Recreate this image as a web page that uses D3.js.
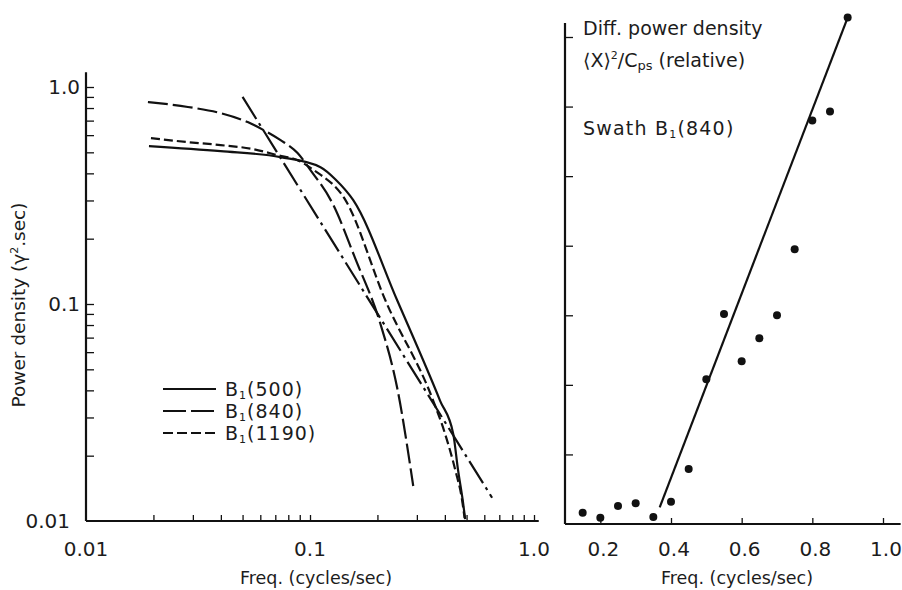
<!DOCTYPE html>
<html>
<head>
<meta charset="utf-8">
<script src="https://cdn.jsdelivr.net/npm/d3@7"></script>
<style>
body { margin: 0; background: #fff; }
text { font-family: "DejaVu Sans", sans-serif; fill: #1c1c1c; }
</style>
</head>
<body>
<svg id="chart" width="902" height="590"></svg>
<script>
// left panel: power density spectra (log-log)
var freqB500 = [0.0191, 0.0399, 0.0739, 0.1114, 0.13, 0.156, 0.245, 0.381, 0.436, 0.458, 0.481, 0.493];
var powB500 = [0.534, 0.506, 0.475, 0.427, 0.375, 0.301, 0.104, 0.0358, 0.0252, 0.0172, 0.0124, 0.0102];
var freqB840 = [0.0189, 0.0285, 0.0399, 0.0527, 0.0621, 0.0739, 0.088, 0.1005, 0.126, 0.16, 0.206, 0.245, 0.289];
var powB840 = [0.853, 0.809, 0.758, 0.689, 0.633, 0.569, 0.496, 0.414, 0.291, 0.16, 0.0813, 0.0411, 0.0145];
var freqB1190 = [0.0195, 0.0285, 0.0399, 0.056, 0.0716, 0.088, 0.104, 0.144, 0.217, 0.355, 0.401, 0.445, 0.478, 0.49];
var powB1190 = [0.581, 0.557, 0.540, 0.517, 0.485, 0.460, 0.414, 0.301, 0.104, 0.0358, 0.0252, 0.0172, 0.0124, 0.0103];
var freqSlope = [0.05, 0.65];
var powSlope = [0.9, 0.0128];

var logTicks = [0.02, 0.03, 0.04, 0.05, 0.06, 0.07, 0.08, 0.09, 0.1, 0.2, 0.3, 0.4, 0.5, 0.6, 0.7, 0.8, 0.9, 1.0];
var logLabels = {0.01: "0.01", 0.1: "0.1", 1: "1.0"};
var legendNames = ["500", "840", "1190"];

// right panel: difference power density (linear)
var freqDiff = [0.15, 0.2, 0.25, 0.3, 0.35, 0.4, 0.45, 0.5, 0.55, 0.6, 0.65, 0.7, 0.75, 0.8, 0.85, 0.9];
var valDiff = [0.16, 0.09, 0.26, 0.30, 0.10, 0.32, 0.79, 2.08, 3.02, 2.34, 2.67, 3.0, 3.95, 5.8, 5.93, 7.28];
var freqFit = [0.368, 0.9];
var valFit = [0.24, 7.28];
var linTicksX = [0.2, 0.4, 0.6, 0.8, 1.0];
var linLabelsX = ["0.2", "0.4", "0.6", "0.8", "1.0"];
var linTicksY = [1, 2, 3, 4, 5, 6, 7];

var svg = d3.select("#chart");

var xL = d3.scaleLog().domain([0.01, 1]).range([86, 534]);
var yL = d3.scaleLog().domain([0.01, 1]).range([521, 87]);
var xR = d3.scaleLinear().domain([0.1, 1.0]).range([565, 883]);
var yR = d3.scaleLinear().domain([0, 7]).range([524, 37]);

function zip(a, b) { return a.map(function(v, i) { return [v, b[i]]; }); }

function drawLeft() {
	var g = svg.append("g");
	// axes
	var ax = d3.axisBottom(xL).tickValues(logTicks).tickSizeInner(-6).tickSizeOuter(0).tickFormat("");
	var ay = d3.axisLeft(yL).tickValues(logTicks).tickSizeInner(-8).tickSizeOuter(0).tickFormat("");
	g.append("g").attr("transform", "translate(0," + yL(0.01) + ")").call(ax);
	g.append("g").attr("transform", "translate(" + xL(0.01) + ",0)").call(ay);
	g.selectAll(".domain").remove();
	g.selectAll(".tick line").attr("stroke", "#111").attr("stroke-width", 1.3);
	g.append("line").attr("x1", xL(0.01)).attr("x2", xL(1.05)).attr("y1", yL(0.01)).attr("y2", yL(0.01))
		.attr("stroke", "#111").attr("stroke-width", 2.2);
	g.append("line").attr("x1", xL(0.01)).attr("x2", xL(0.01)).attr("y1", yL(0.01)).attr("y2", yL(1.17))
		.attr("stroke", "#111").attr("stroke-width", 2.2);

	Object.keys(logLabels).forEach(function(k) {
		var v = +k;
		g.append("text").attr("x", v === 0.01 ? 70 : 80).attr("y", yL(v)).attr("dy", "0.35em")
			.attr("text-anchor", "end").attr("font-size", 20).text(logLabels[k]);
		g.append("text").attr("x", xL(v)).attr("y", 549).attr("dy", "0.35em")
			.attr("text-anchor", "middle").attr("font-size", 20).text(logLabels[k]);
	});

	g.append("text").attr("x", 316).attr("y", 578).attr("dy", "0.35em").attr("text-anchor", "middle")
		.attr("font-size", 17.5).text("Freq.  (cycles/sec)");
	var yl = g.append("text").attr("transform", "translate(19,305) rotate(-90)").attr("dy", "0.35em")
		.attr("text-anchor", "middle").attr("font-size", 18.5);
	yl.append("tspan").text("Power density (\u03b3");
	yl.append("tspan").attr("font-size", 11).attr("dy", -7).text("2");
	yl.append("tspan").attr("dy", 7).text(".sec)");

	var line = d3.line().x(function(d) { return xL(d[0]); }).y(function(d) { return yL(d[1]); })
		.curve(d3.curveMonotoneX);
	var series = [
		{pts: zip(freqB500, powB500), dash: null},
		{pts: zip(freqB840, powB840), dash: "20,5"},
		{pts: zip(freqB1190, powB1190), dash: "9,4"},
		{pts: zip(freqSlope, powSlope), dash: "26,5,3,5"}
	];
	series.forEach(function(s) {
		g.append("path").attr("d", line(s.pts)).attr("fill", "none").attr("stroke", "#111")
			.attr("stroke-width", 2.2).attr("stroke-dasharray", s.dash);
	});

	// legend
	var legDash = [null, "23,5", "10,4"];
	legendNames.forEach(function(name, i) {
		var ly = 389 + i * 22;
		g.append("line").attr("x1", 163).attr("x2", 216).attr("y1", ly).attr("y2", ly)
			.attr("stroke", "#111").attr("stroke-width", 2.2).attr("stroke-dasharray", legDash[i]);
		var t = g.append("text").attr("x", 225).attr("y", ly).attr("dy", "0.35em").attr("font-size", 19)
			.attr("letter-spacing", 1);
		t.append("tspan").text("B");
		t.append("tspan").attr("font-size", 11).attr("dy", 3).text("1");
		t.append("tspan").attr("dy", -3).text("(" + name + ")");
	});
}

function drawRight() {
	var g = svg.append("g");
	var ax = d3.axisBottom(xR).tickValues(linTicksX).tickSizeInner(-6).tickSizeOuter(0).tickFormat("");
	var ay = d3.axisLeft(yR).tickValues(linTicksY).tickSizeInner(-8).tickSizeOuter(0).tickFormat("");
	g.append("g").attr("transform", "translate(0," + yR(0) + ")").call(ax);
	g.append("g").attr("transform", "translate(" + xR(0.1) + ",0)").call(ay);
	g.selectAll(".domain").remove();
	g.selectAll(".tick line").attr("stroke", "#111").attr("stroke-width", 1.3);
	g.append("line").attr("x1", xR(0.1)).attr("x2", xR(1.05)).attr("y1", yR(0)).attr("y2", yR(0))
		.attr("stroke", "#111").attr("stroke-width", 2.2);
	g.append("line").attr("x1", xR(0.1)).attr("x2", xR(0.1)).attr("y1", yR(0)).attr("y2", yR(7.2))
		.attr("stroke", "#111").attr("stroke-width", 2.2);

	linTicksX.forEach(function(v, i) {
		g.append("text").attr("x", xR(v) + 3).attr("y", 549).attr("dy", "0.35em")
			.attr("text-anchor", "middle").attr("font-size", 20).text(linLabelsX[i]);
	});
	g.append("text").attr("x", 737).attr("y", 578).attr("dy", "0.35em").attr("text-anchor", "middle")
		.attr("font-size", 17.5).text("Freq.  (cycles/sec)");

	g.append("text").attr("x", 583).attr("y", 28).attr("dy", "0.35em").attr("font-size", 19)
		.text("Diff. power density");
	var t2 = g.append("text").attr("x", 583).attr("y", 60).attr("dy", "0.35em").attr("font-size", 19);
	t2.append("tspan").text("\u27e8X\u27e9");
	t2.append("tspan").attr("font-size", 11).attr("dy", -8).text("2");
	t2.append("tspan").attr("dy", 8).text("/C");
	t2.append("tspan").attr("font-size", 13).attr("dy", 3).text("ps");
	t2.append("tspan").attr("dy", -3).text(" (relative)");
	var t3 = g.append("text").attr("x", 583).attr("y", 128).attr("dy", "0.35em").attr("font-size", 19)
		.attr("letter-spacing", 1.2);
	t3.append("tspan").text("Swath B");
	t3.append("tspan").attr("font-size", 11).attr("dy", 3).text("1");
	t3.append("tspan").attr("dy", -3).text("(840)");

	var fit = zip(freqFit, valFit);
	g.append("line").attr("x1", xR(fit[0][0])).attr("y1", yR(fit[0][1]))
		.attr("x2", xR(fit[1][0])).attr("y2", yR(fit[1][1]))
		.attr("stroke", "#111").attr("stroke-width", 2.2);

	g.selectAll("circle.pt").data(zip(freqDiff, valDiff)).enter().append("circle")
		.attr("class", "pt").attr("cx", function(d) { return xR(d[0]); })
		.attr("cy", function(d) { return yR(d[1]); }).attr("r", 4).attr("fill", "#111");
}

drawLeft();
drawRight();
</script>
</body>
</html>
